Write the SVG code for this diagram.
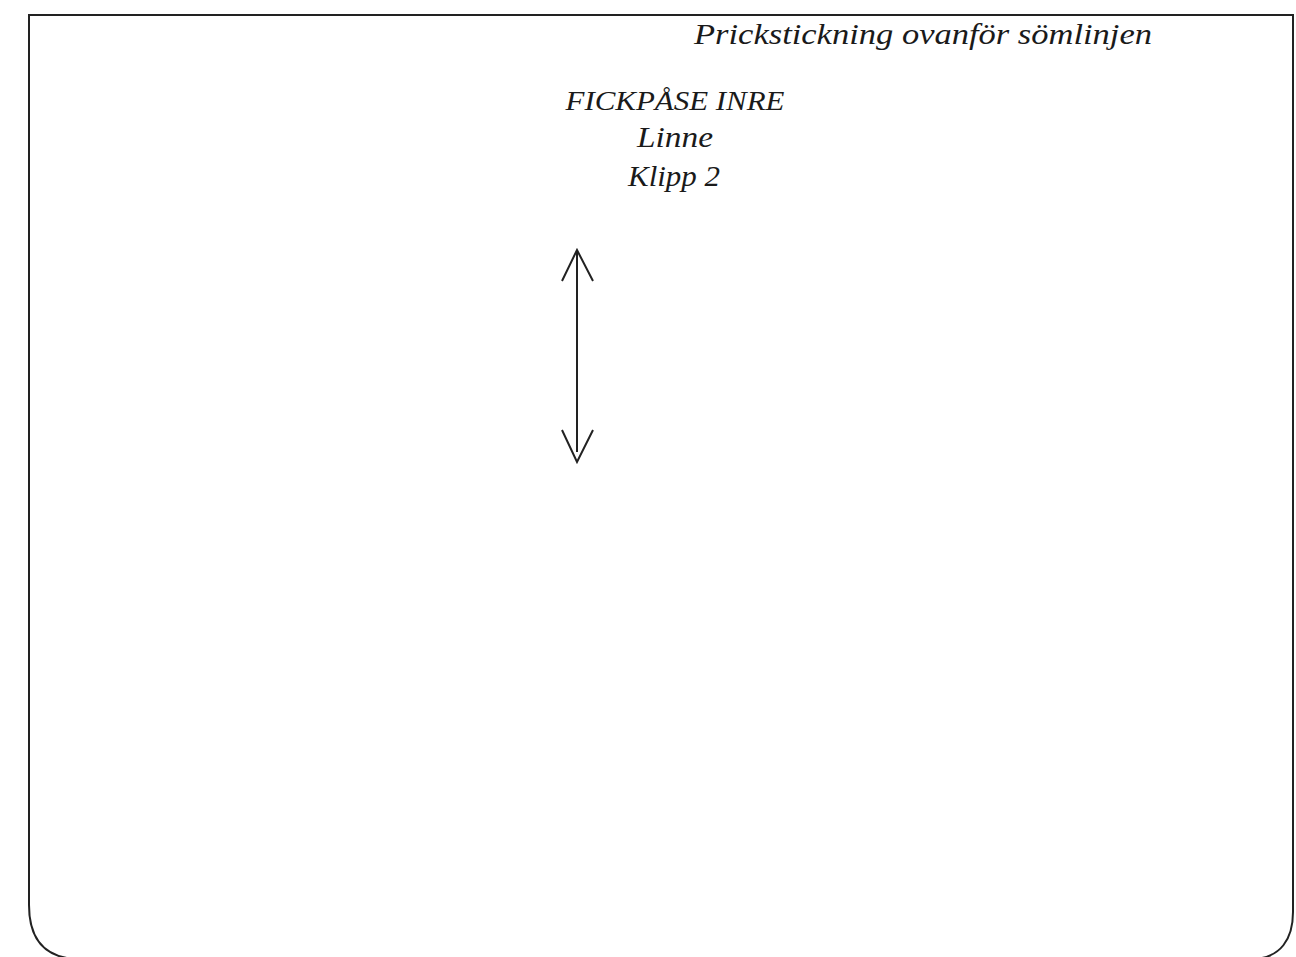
<svg xmlns="http://www.w3.org/2000/svg" width="1296" height="957" viewBox="0 0 1296 957">
<style>
.t{font-family:"Liberation Serif","DejaVu Serif",serif;font-style:italic;fill:#1a1a1a}
.ln{fill:none;stroke:#222;stroke-width:2}
</style>
<rect width="1296" height="957" fill="#fff"/>
<g id="outline">
<path class="ln" d="M29,15 H1293 V912 C1293,940 1280,957 1255,959 H75 C45,957 29,940 29,905 Z"/>
</g>
<g id="note">
<text class="t" x="694" y="44" font-size="30" textLength="458" lengthAdjust="spacingAndGlyphs">Prickstickning ovanför sömlinjen</text>
</g>
<g id="label">
<text class="t" x="675" y="110" font-size="28" text-anchor="middle" textLength="219" lengthAdjust="spacingAndGlyphs">FICKPÅSE INRE</text>
<text class="t" x="675" y="147" font-size="30" text-anchor="middle" textLength="76" lengthAdjust="spacingAndGlyphs">Linne</text>
<text class="t" x="674" y="186" font-size="30" text-anchor="middle" textLength="92" lengthAdjust="spacingAndGlyphs">Klipp 2</text>
</g>
<g id="connectors">
<path class="ln" d="M577,250 V452"/>
<path class="ln" d="M562,281 L577,250 L593,281"/>
<path class="ln" d="M562,430 L577,462 L593,430"/>
</g>
</svg>
